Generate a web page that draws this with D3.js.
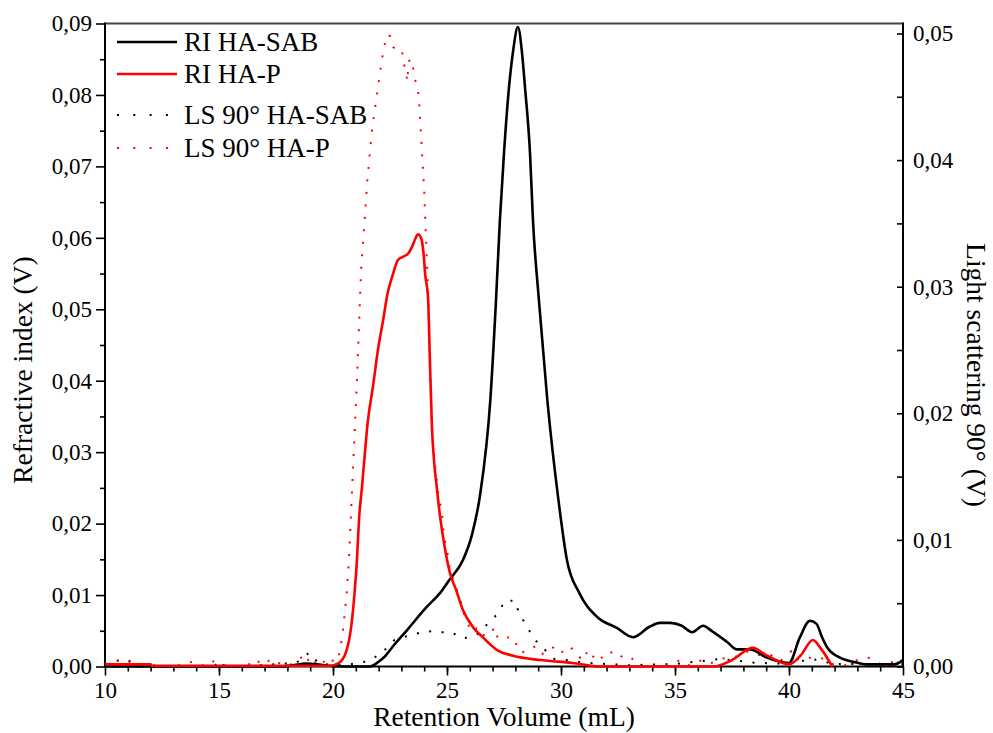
<!DOCTYPE html>
<html>
<head>
<meta charset="utf-8">
<script src="https://cdn.jsdelivr.net/npm/d3@7"></script>
<style>
    body { margin: 0; background: #fff; }
</style>
</head>
<body>
<div id="chart"></div>
<script>
// tick values
var volTicks = [10, 15, 20, 25, 30, 35, 40, 45];
var riTicks = [0, 0.01, 0.02, 0.03, 0.04, 0.05, 0.06, 0.07, 0.08, 0.09];
var lsTicks = [0, 0.01, 0.02, 0.03, 0.04, 0.05];

var legendLabels = ["RI HA-SAB", "RI HA-P", "LS 90\u00B0 HA-SAB", "LS 90\u00B0 HA-P"];

// [retention volume (mL), signal (V)]
var riSab = [[10, 0], [17.8, 0], [18.3, 0.0002], [18.8, 0.0004], [19.3, 0.0003], [19.8, 0.0001], [20.5, 0],
    [21.6, 0], [21.97, 0.0006], [22.3, 0.0015], [22.6, 0.0027], [23.25, 0.0051], [24.1, 0.0083], [24.7, 0.0103],
    [25.1, 0.0121], [25.7, 0.0149], [26.1, 0.0185], [26.45, 0.024], [26.9, 0.0373], [27.15, 0.0513],
    [27.32, 0.0625], [27.5, 0.0719], [27.72, 0.0811], [27.89, 0.0859], [28.11, 0.0895], [28.29, 0.0859],
    [28.42, 0.0811], [28.64, 0.0719], [28.77, 0.0625], [29.03, 0.0513], [29.4, 0.0373], [29.9, 0.023],
    [30.26, 0.0149], [30.8, 0.0103], [31.6, 0.0069], [32.45, 0.0054], [33.16, 0.0041], [33.9, 0.0056],
    [34.34, 0.0061], [34.8, 0.0061], [35.3, 0.0057], [35.75, 0.0048], [36.23, 0.0057], [36.6, 0.005],
    [37.3, 0.0034], [37.7, 0.0024], [38.3, 0.0024], [39.0, 0.0013], [40.0, 0.0005], [40.48, 0.0041],
    [40.92, 0.0064], [41.2, 0.006], [41.45, 0.0041], [41.67, 0.0027], [42.2, 0.0013], [42.9, 0.0006],
    [43.4, 0.0003], [44.6, 0.0003], [45, 0.0009]];

var riP = [[10, 0.0003], [12, 0.0003], [12.05, 0.0001], [19.87, 0.0001], [20.2, 0.0004], [20.4, 0.0009],
    [20.6, 0.0023], [20.75, 0.0045], [20.85, 0.007], [20.95, 0.0105], [21.05, 0.0149], [21.14, 0.0205],
    [21.27, 0.0251], [21.4, 0.0299], [21.52, 0.0341], [21.75, 0.0391], [21.97, 0.0443], [22.2, 0.0485],
    [22.4, 0.0523], [22.6, 0.0546], [22.85, 0.0569], [23.1, 0.0574], [23.3, 0.0578], [23.46, 0.0587],
    [23.6, 0.0598], [23.73, 0.0605], [23.88, 0.0598], [23.98, 0.0575], [24.04, 0.055], [24.17, 0.0515],
    [24.25, 0.0429], [24.34, 0.0335], [24.43, 0.0289], [24.55, 0.0251], [24.7, 0.0209], [24.9, 0.0167],
    [25.13, 0.0131], [25.4, 0.0107], [25.7, 0.0079], [26.14, 0.0055], [26.6, 0.004], [27.2, 0.0023],
    [27.9, 0.0015], [29.1, 0.0009], [30.5, 0.0005], [31.7, 0], [36.7, 0], [37.5, 0.0009], [38.4, 0.0026],
    [39.0, 0.0016], [40.0, 0.0003], [40.5, 0.0015], [41.05, 0.0037], [41.4, 0.0025], [41.9, 0]];

var lsSab = [[10, 0.0001], [10.3, 0.0003], [10.8, 0.0006], [11.3, 0.0003], [12, 0], [14.8, 0], [15.0, 0.0005],
    [15.2, 0.0001], [16, 0], [18.4, 0.0003], [18.95, 0.0011], [19.4, 0.0002], [20.5, 0.0001], [21.5, 0.0004],
    [22.1, 0.001], [22.7, 0.0021], [23.25, 0.0024], [24.1, 0.0028], [24.6, 0.0027], [25.2, 0.0027],
    [25.7, 0.0022], [26.3, 0.0025], [26.8, 0.0034], [27.24, 0.0042], [27.54, 0.0052], [27.98, 0.0052],
    [28.16, 0.0042], [28.5, 0.0032], [28.8, 0.0022], [29.25, 0.0014], [29.7, 0.0006], [30.3, 0.0005],
    [31.0, 0.0003], [32.0, 0.0002], [33.0, 0.0001], [35.0, 0.0002], [37.0, 0.0006], [38.5, 0.0003],
    [40.0, 0.0002], [41.0, 0.0006], [42.0, 0.0002], [45, 0.0002]];

var lsP = [[10, 0.0002], [10.4, 0.0003], [10.7, 0.0006], [11.0, 0.0004], [11.4, 0.0002], [12, 0.0001], [13, 0],
    [13.9, 0.0004], [14.3, 0.0001], [14.6, 0.0005], [15.2, 0.0001], [16.2, 0], [16.6, 0.0006], [16.9, 0.0001],
    [17.3, 0.0006], [17.8, 0.0001], [18.3, 0.0002], [18.6, 0.0007], [18.8, 0.0002], [19.0, 0.0008],
    [19.2, 0.0003], [19.4, 0.0007], [19.7, 0.0002], [19.9, 0.0006], [20.1, 0.0003], [20.3, 0.0011],
    [20.44, 0.0029], [20.6, 0.0058], [20.7, 0.0084], [20.83, 0.0137], [21.05, 0.0226], [21.23, 0.0313],
    [21.35, 0.0343], [21.5, 0.0383], [21.7, 0.0422], [21.85, 0.0442], [22.0, 0.0461], [22.15, 0.048],
    [22.25, 0.049], [22.37, 0.0499], [22.5, 0.0498], [22.65, 0.0489], [22.85, 0.0487], [23.03, 0.0487],
    [23.07, 0.0477], [23.2, 0.0472], [23.25, 0.0462], [23.33, 0.0478], [23.42, 0.048], [23.55, 0.047],
    [23.64, 0.046], [23.73, 0.0455], [23.8, 0.044], [23.9, 0.0406], [24.0, 0.0376], [24.08, 0.0337],
    [24.17, 0.0297], [24.22, 0.0258], [24.27, 0.0232], [24.34, 0.0184], [24.47, 0.016], [24.6, 0.0139],
    [24.78, 0.0121], [24.87, 0.0102], [25.0, 0.0092], [25.13, 0.0076], [25.44, 0.006], [25.57, 0.0053],
    [25.8, 0.0038], [26.1, 0.0027], [26.3, 0.003], [26.5, 0.0024], [26.75, 0.0026], [26.97, 0.0026],
    [27.05, 0.0031], [27.24, 0.0022], [27.46, 0.0023], [27.68, 0.0023], [27.98, 0.0022], [28.1, 0.0013],
    [28.3, 0.0011], [28.64, 0.0015], [29.0, 0.0016], [29.2, 0.001], [29.43, 0.0012], [29.65, 0.0015],
    [29.9, 0.001], [30.2, 0.0013], [30.4, 0.0016], [30.6, 0.0011], [30.83, 0.0007], [31.05, 0.0013],
    [31.27, 0.0005], [31.58, 0.0011], [31.84, 0.0006], [32.06, 0.001], [32.2, 0.0011], [32.45, 0.0012],
    [32.7, 0.0007], [33.0, 0.0008], [33.5, 0], [34.5, 0], [35.0, 0.0004], [35.3, 0.0005], [35.6, 0.0001],
    [36.05, 0.0005], [36.5, 0.0002], [37.0, 0.0006], [37.3, 0.0007], [37.8, 0.0008], [38.2, 0.0012],
    [38.7, 0.0009], [39.2, 0.0009], [39.6, 0.0004], [40.1, 0.0012], [40.3, 0.0005], [40.6, 0.0007],
    [41.0, 0.0007], [41.4, 0.0007], [41.8, 0.0002], [42.5, 0.0001], [43.1, 0.0006], [43.55, 0.0007],
    [44.0, 0.0002], [44.7, 0.0004], [45, 0.0004]];

function chromatogram() {
    var width = 993, height = 733;
    var left = 105, right = 903, top = 23.5, bottom = 666.5;
    var serif = "'Liberation Serif', 'Times New Roman', Times, serif";

    var x = d3.scaleLinear().domain([10, 45]).range([left, right]);
    var yL = d3.scaleLinear().domain([0, 0.09]).range([bottom, top]);
    var yR = d3.scaleLinear().domain([0, 0.05]).range([bottom, 33.5]);

    var comma = function (d) { return d3.format(".2f")(d).replace(".", ","); };
    var noDomain = function (g) { g.select(".domain").remove(); };

    var svg = d3.select("#chart").append("svg")
        .attr("width", width)
        .attr("height", height);

    // minor ticks
    svg.append("g")
        .attr("transform", "translate(0," + bottom + ")")
        .call(d3.axisBottom(x).tickValues(d3.range(11, 45)).tickSize(5).tickFormat(""))
        .call(noDomain);
    svg.append("g")
        .attr("transform", "translate(" + left + ",0)")
        .call(d3.axisLeft(yL).tickValues(riTicks.slice(0, -1).map(function (d) { return d + 0.005; })).tickSize(5).tickFormat(""))
        .call(noDomain);
    svg.append("g")
        .attr("transform", "translate(" + right + ",0)")
        .call(d3.axisRight(yR).tickValues(lsTicks.slice(0, -1).map(function (d) { return d + 0.005; })).tickSize(-6).tickFormat(""))
        .call(noDomain);

    // major ticks + labels
    svg.append("g")
        .attr("transform", "translate(0," + bottom + ")")
        .call(d3.axisBottom(x).tickValues(volTicks).tickSize(9).tickPadding(6))
        .call(noDomain);
    svg.append("g")
        .attr("transform", "translate(" + left + ",0)")
        .call(d3.axisLeft(yL).tickValues(riTicks).tickSize(9).tickPadding(4).tickFormat(comma))
        .call(noDomain);
    svg.append("g")
        .attr("transform", "translate(" + right + ",0)")
        .call(d3.axisRight(yR).tickValues(lsTicks).tickSize(-6).tickPadding(10).tickFormat(comma))
        .call(noDomain);

    svg.selectAll(".tick text").style("font-size", "23px");
    svg.selectAll(".tick line").attr("stroke", "#000").attr("stroke-width", 1.6);

    // frame
    svg.append("line").attr("x1", left).attr("x2", right).attr("y1", top).attr("y2", top)
        .attr("stroke", "#444").attr("stroke-width", 2);
    svg.append("line").attr("x1", left).attr("x2", left).attr("y1", top - 1).attr("y2", bottom + 1)
        .attr("stroke", "#000").attr("stroke-width", 2);
    svg.append("line").attr("x1", right).attr("x2", right).attr("y1", top - 1).attr("y2", bottom + 1)
        .attr("stroke", "#000").attr("stroke-width", 2);
    svg.append("line").attr("x1", left - 1).attr("x2", right + 1).attr("y1", bottom).attr("y2", bottom)
        .attr("stroke", "#000").attr("stroke-width", 2);

    var riLine = d3.line()
        .x(function (d) { return x(d[0]); })
        .y(function (d) { return yL(d[1]); })
        .curve(d3.curveMonotoneX);
    var lsLine = d3.line()
        .x(function (d) { return x(d[0]); })
        .y(function (d) { return yR(d[1]); });

    svg.append("path").datum(lsSab).attr("d", lsLine)
        .attr("fill", "none").attr("stroke", "#000").attr("stroke-width", 2)
        .attr("stroke-dasharray", "2,10.5");
    svg.append("path").datum(lsP).attr("d", lsLine)
        .attr("fill", "none").attr("stroke", "#ff0000").attr("stroke-width", 2)
        .attr("stroke-dasharray", "2,10.5");
    svg.append("path").datum(riSab).attr("d", riLine)
        .attr("fill", "none").attr("stroke", "#000").attr("stroke-width", 2.6);
    svg.append("path").datum(riP).attr("d", riLine)
        .attr("fill", "none").attr("stroke", "#ff0000").attr("stroke-width", 2.6);

    // legend
    var legendY = [42, 74, 115, 148];
    var legendColor = ["#000", "#ff0000", "#000", "#ff0000"];
    legendLabels.forEach(function (label, i) {
        var l = svg.append("line")
            .attr("x1", 117).attr("x2", 177)
            .attr("y1", legendY[i]).attr("y2", legendY[i])
            .attr("stroke", legendColor[i]);
        if (i < 2) {
            l.attr("stroke-width", 2.6);
        } else {
            l.attr("stroke-width", 2).attr("stroke-dasharray", "2,14.3");
        }
        svg.append("text")
            .attr("x", 184)
            .attr("y", legendY[i] + 8.5)
            .style("font-size", "27px")
            .text(label);
    });

    // axis titles
    svg.append("text")
        .attr("x", 504).attr("y", 726)
        .attr("text-anchor", "middle")
        .style("font-size", "27.5px")
        .text("Retention Volume (mL)");
    svg.append("text")
        .attr("transform", "translate(32,370) rotate(-90)")
        .attr("text-anchor", "middle")
        .style("font-size", "27.5px")
        .text("Refractive index (V)");
    svg.append("text")
        .attr("transform", "translate(967,375) rotate(90)")
        .attr("text-anchor", "middle")
        .style("font-size", "27.5px")
        .text("Light scattering 90\u00B0 (V)");

    svg.selectAll("text").style("font-family", serif).style("fill", "#000");
}
chromatogram();
</script>
</body>
</html>
